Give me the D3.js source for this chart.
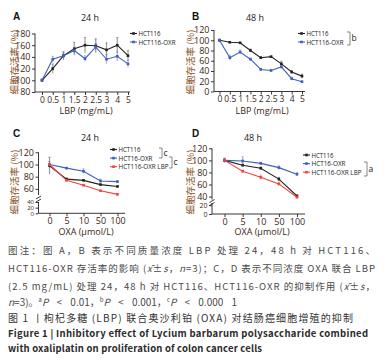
<!DOCTYPE html>
<html><head><meta charset="utf-8">
<script src="https://cdn.jsdelivr.net/npm/d3@7"></script>
<style>body{margin:0;background:#fff}svg{display:block}</style>
</head><body>
<script>
// ---------- data ----------
const catsLBP = ["0","0.5","1","1.5","2","2.5","3","4","5"];
const catsOXA = ["0","5","10","50","100"];

const a_hct = [100,120,142,154,160,159,152,160,142];
const a_hctErr = [2,8,7,11,13,12,12,13,9];
const a_oxr = [100,136,142,151,137,157,136,141,128];
const a_oxrErr = [3,5,5,5,5,6,8,8,6];

const b_hct = [100,96,95,80,66,68,54,38,30];
const b_hctErr = [2,1,1,3,2,1,5,3,4];
const b_oxr = [100,66,77,63,43,41,48,25,19];
const b_oxrErr = [2,5,4,2,2,2,3,3,2];

const c_hct = [98,76,74,67,64];
const c_hctErr = [14,2,1,1,1];
const c_oxr = [100,94,89,73,72];
const c_oxrErr = [5,1,4,3,1];
const c_lbp = [100,74,66,57,51];
const c_lbpErr = [0,1,1,1,1];

const d_hct = [100,92,87,69,41];
const d_hctErr = [3,2,2,3,2];
const d_oxr = [100,99,95,88,77];
const d_oxrErr = [4,7,2,3,3];
const d_lbp = [100,82,72,61,39];
const d_lbpErr = [2,2,4,3,2];

const legAB = ["HCT116","HCT116-OXR"];
const legCD = ["HCT116","HCT16-OXR","HCT116-OXR LBP"];

// ---------- styles ----------
const COL = {k:"#222222", b:"#3f5fbf", r:"#f0443c"};
const tickCol = "#3b2616", labCol = "#8a5020";
const FONT = "'Open Sans','Noto Sans CJK SC',sans-serif";
const CJK = "'Noto Sans CJK SC',sans-serif";
const legW = {"HCT116":22,"HCT116-OXR":37,"HCT16-OXR":34,"HCT116-OXR LBP":50};

const svg = d3.select("body").append("svg").attr("width",387).attr("height",364)
  .style("font-family",FONT);

function styleAxis(g,fs){
  g.selectAll("path.domain").remove();
  g.selectAll("line").attr("stroke","#222").attr("stroke-width",0.9);
  g.selectAll("text").attr("fill",tickCol).style("font-size",fs+"px").style("font-family",FONT);
}

function drawPanel(p){
  const g = svg.append("g");
  const x = d3.scalePoint().domain(p.cats).range(p.xr);
  p.ySegs.forEach(s=>{
    const ax = g.append("g").attr("transform",`translate(${p.axX},0)`)
      .call(d3.axisLeft(s.scale).tickValues(s.ticks).tickSize(3).tickPadding(1.5));
    styleAxis(ax,s.fs||9);
    const d = s.scale.range();
    g.append("line").attr("x1",p.axX).attr("x2",p.axX).attr("y1",d[0]).attr("y2",d[1])
      .attr("stroke","#222").attr("stroke-width",0.9);
  });
  if(p.brk){
    [0,3].forEach(o=>g.append("line").attr("x1",p.axX-2.5).attr("x2",p.axX+2.5)
      .attr("y1",p.brk+o+1.5).attr("y2",p.brk+o-1.5).attr("stroke","#222").attr("stroke-width",0.9));
  }
  const yMain = p.ySegs[0].scale;
  const xa = g.append("g").attr("transform",`translate(0,${p.axY})`)
    .call(d3.axisBottom(x).tickSize(3).tickPadding(1.5));
  styleAxis(xa,p.xfs||9);
  g.append("line").attr("x1",p.axX).attr("x2",p.xEnd).attr("y1",p.axY).attr("y2",p.axY)
    .attr("stroke","#222").attr("stroke-width",0.9);
  p.series.forEach(s=>{
    const pts = s.v.map((v,i)=>({c:p.cats[i],v,e:s.e[i]}));
    g.append("g").selectAll("line").data(pts.filter(d=>d.e>0)).join("line")
      .attr("x1",d=>x(d.c)).attr("x2",d=>x(d.c))
      .attr("y1",d=>yMain(d.v-d.e)).attr("y2",d=>yMain(d.v+d.e))
      .attr("stroke",s.col).attr("stroke-opacity",0.45).attr("stroke-width",1.2);
    g.append("g").selectAll("line").data(pts.filter(d=>d.e>0)).join("line")
      .attr("x1",d=>x(d.c)-1.2).attr("x2",d=>x(d.c)+1.2)
      .attr("y1",d=>yMain(d.v+d.e)).attr("y2",d=>yMain(d.v+d.e))
      .attr("stroke",s.col).attr("stroke-opacity",0.45).attr("stroke-width",0.8);
    g.append("path").datum(pts)
      .attr("d",d3.line().x(d=>x(d.c)).y(d=>yMain(d.v)))
      .attr("fill","none").attr("stroke",s.col).attr("stroke-width",1.1);
    g.append("g").selectAll("rect").data(pts).join("rect")
      .attr("x",d=>x(d.c)-1.3).attr("y",d=>yMain(d.v)-1.3)
      .attr("width",2.6).attr("height",2.6).attr("fill",s.col);
  });
  g.append("text").attr("x",p.letter[0]).attr("y",p.letter[1]).text(p.L)
    .attr("font-weight","bold").style("font-size","10px").attr("fill","#111")
    .style("font-family","'Liberation Sans',sans-serif");
  g.append("text").attr("x",p.title[0]).attr("y",p.title[1]).text(p.T)
    .attr("text-anchor","middle").style("font-size","9px").attr("fill","#222");
  g.append("text").attr("transform",`translate(${p.yl[0]},${p.yl[1]}) rotate(-90)`)
    .attr("text-anchor","middle").attr("dy","0.35em").text("细胞存活率 (%)")
    .style("font-size","9.5px").style("font-family",CJK).attr("fill",labCol);
  g.append("text").attr("x",p.xl[0]).attr("y",p.xl[1]).text(p.XT)
    .attr("text-anchor","middle").style("font-size","9px").attr("fill",tickCol);
  p.series.forEach((s,i)=>{
    const ly = p.leg[1] + i*p.legStep;
    g.append("line").attr("x1",p.leg[0]).attr("x2",p.leg[0]+7).attr("y1",ly).attr("y2",ly)
      .attr("stroke",s.col).attr("stroke-width",1.1);
    g.append("rect").attr("x",p.leg[0]+2.2).attr("y",ly-1.3).attr("width",2.6).attr("height",2.6).attr("fill",s.col);
    g.append("text").attr("x",p.leg[0]+8.5).attr("y",ly).attr("dy","0.35em").text(s.name)
      .style("font-size","7.5px").attr("fill","#222")
      .attr("textLength",legW[s.name]).attr("lengthAdjust","spacingAndGlyphs");
  });
  (p.brackets||[]).forEach(b=>{
    g.append("path").attr("d",`M${b.x-3},${b.y0}H${b.x}V${b.y1}H${b.x-3}`)
      .attr("fill","none").attr("stroke","#555").attr("stroke-width",0.7);
    g.append("text").attr("x",b.x+1.5).attr("y",(b.y0+b.y1)/2).attr("dy","0.3em").text(b.t)
      .style("font-size","8.5px").attr("fill","#222");
  });
}

drawPanel({L:"A",T:"24 h",XT:"LBP (mg/mL)",cats:catsLBP,xr:[42,128],axX:35,axY:92,xEnd:130,xfs:8.5,
  ySegs:[{scale:d3.scaleLinear().domain([80,180]).range([92,33.5]),ticks:[80,100,120,140,160,180]}],
  series:[{name:legAB[0],v:a_hct,e:a_hctErr,col:COL.k},{name:legAB[1],v:a_oxr,e:a_oxrErr,col:COL.b}],
  letter:[13,19.5],title:[90,21],yl:[15,62],xl:[86,114],leg:[130,33.5],legStep:8.5});

drawPanel({L:"B",T:"48 h",XT:"LBP (mg/mL)",cats:catsLBP,xr:[219.5,302],axX:214,axY:91.5,xEnd:305,xfs:8.5,
  ySegs:[{scale:d3.scaleLinear().domain([0,120]).range([91.5,30]),ticks:[0,20,40,60,80,100,120]}],
  series:[{name:legAB[0],v:b_hct,e:b_hctErr,col:COL.k},{name:legAB[1],v:b_oxr,e:b_oxrErr,col:COL.b}],
  letter:[192,19.5],title:[255,21],yl:[191,62],xl:[262,114],leg:[298,33.5],legStep:8.5,
  brackets:[{x:350,y0:32,y1:45,t:"b"}]});

drawPanel({L:"C",T:"24 h",XT:"OXA (μmol/L)",cats:catsOXA,xr:[49.5,117.5],axX:38.5,axY:213.3,xEnd:125,
  ySegs:[{scale:d3.scaleLinear().domain([50,120]).range([195,152.3]),ticks:[60,80,100,120]},
         {scale:d3.scaleLinear().domain([0,40]).range([213.3,202]),ticks:[0,20,40],fs:6}],
  brk:197.5,
  series:[{name:legCD[0],v:c_hct,e:c_hctErr,col:COL.k},{name:legCD[1],v:c_oxr,e:c_oxrErr,col:COL.b},
          {name:legCD[2],v:c_lbp,e:c_lbpErr,col:COL.r}],
  letter:[13,137],title:[90,141],yl:[15,182],xl:[86,235],leg:[110,149.5],legStep:8.6,
  brackets:[{x:162,y0:148,y1:158,t:"c"},{x:172,y0:157,y1:168,t:"c"}]});

drawPanel({L:"D",T:"48 h",XT:"OXA (μmol/L)",cats:catsOXA,xr:[224.5,297],axX:212,axY:214,xEnd:305,
  ySegs:[{scale:d3.scaleLinear().domain([35,120]).range([199.6,148.3]),ticks:[40,60,80,100,120]},
         {scale:d3.scaleLinear().domain([0,25]).range([214,203]),ticks:[0,20],fs:7}],
  brk:201,
  series:[{name:legCD[0],v:d_hct,e:d_hctErr,col:COL.k},{name:legCD[1],v:d_oxr,e:d_oxrErr,col:COL.b},
          {name:legCD[2],v:d_lbp,e:d_lbpErr,col:COL.r}],
  letter:[192,137],title:[253,141],yl:[191,182],xl:[262,235],leg:[303,155],legStep:8.6,
  brackets:[{x:367,y0:162,y1:176,t:"a"}]});

// ---------- caption ----------
const cap = svg.append("g").style("font-family",CJK);
function capLine(y,parts,opts){
  const t = cap.append("text").attr("x",8).attr("y",y).style("font-size",(opts.fs||9.5)+"px")
    .attr("fill",opts.col||"#4a4a4a");
  if(opts.bold) t.attr("font-weight","bold");
  if(opts.len) t.attr("textLength",opts.len).attr("lengthAdjust","spacing");
  if(opts.ws) t.attr("word-spacing",opts.ws);
  parts.forEach(pt=>{
    const s = t.append("tspan").text(pt.t);
    if(pt.i) s.attr("font-style","italic");
    if(pt.sup) s.attr("baseline-shift","super").style("font-size","6px");
  });
}
capLine(254,[{t:"图注：图 A，B 表示不同质量浓度 LBP 处理 24，48 h 对 HCT116、"}],{len:367});
capLine(272,[{t:"HCT116-OXR 存活率的影响 ("},{t:"x̄",i:1},{t:"±"},{t:"s",i:1},{t:"，"},{t:"n",i:1},{t:"=3)；C，D 表示不同浓度 OXA 联合 LBP"}],{len:367});
capLine(290,[{t:"(2.5 mg/mL) 处理 24，48 h 对 HCT116、HCT116-OXR 的抑制作用 ("},{t:"x̄",i:1},{t:"±"},{t:"s",i:1},{t:"，"}],{len:367});
capLine(306,[{t:"n",i:1},{t:"=3)。"},{t:"a",sup:1},{t:"P",i:1},{t:" < 0.01，"},{t:"b",sup:1},{t:"P",i:1},{t:" < 0.001，"},{t:"c",sup:1},{t:"P",i:1},{t:" < 0.000 1"}],{fs:10,ws:6});
capLine(322,[{t:"图 1 丨枸杞多糖 (LBP) 联合奥沙利铂 (OXA) 对结肠癌细胞增殖的抑制"}],{col:"#333",fs:10,len:345});
capLine(337,[{t:"Figure 1  |  Inhibitory effect of Lycium barbarum polysaccharide combined"}],{col:"#2a2a2a",bold:1,fs:9.5,len:360});
capLine(352,[{t:"with oxaliplatin on proliferation of colon cancer cells"}],{col:"#2a2a2a",bold:1,fs:9.5,len:254});
</script>
</body></html>
